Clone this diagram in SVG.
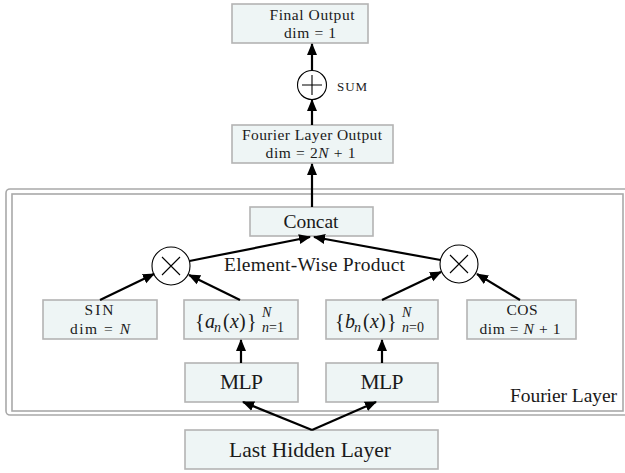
<svg xmlns="http://www.w3.org/2000/svg" width="625" height="473" viewBox="0 0 625 473">
  <defs>
    <marker id="ah" markerUnits="userSpaceOnUse" markerWidth="14" markerHeight="12" viewBox="0 0 14 12" refX="11" refY="6" orient="auto">
      <path d="M0,1 L12,6 L0,11 Z" fill="#000"/>
    </marker>
    <style>
      .box { fill: #eef5f5; stroke: #b3b3b3; stroke-width: 1.6; }
      .frame { fill: none; stroke: #a9a9a9; stroke-width: 1.6; }
      .op { fill: #fff; stroke: #000; stroke-width: 1.1; }
      .opl { stroke: #000; stroke-width: 1.1; fill: none; }
      .t { font-family: "Liberation Serif", "Times New Roman", serif; fill: #1a1a1a; text-anchor: middle; }
      .st { text-anchor: start; }
      .s { font-size: 15.5px; }
      .m { font-size: 19.5px; }
      .l { font-size: 21.5px; }
      .mm { font-size: 20px; }
      .sb { font-size: 14px; }
      .i { font-style: italic; }
      .c { stroke: #000; stroke-width: 2.2; fill: none; marker-end: url(#ah); }
    </style>
  </defs>

  <!-- Fourier Layer frame -->
  <g id="fourier-layer">
    <rect class="frame" x="6" y="189" width="630" height="226" rx="4"/>
    <rect class="frame" x="12" y="194" width="611" height="217"/>
    <text class="t m st" x="510" y="402" textLength="107">Fourier Layer</text>
  </g>

  <g id="final-output">
    <rect class="box" x="232" y="4" width="136" height="39"/>
    <text class="t s" x="312" y="20" textLength="85">Final Output</text>
    <text class="t s" x="310" y="38" textLength="52">dim = 1</text>
  </g>

  <g id="sum">
    <circle class="op" cx="312" cy="85" r="14.5"/>
    <path class="opl" d="M302,85 H322 M312,75 V95"/>
    <text class="t st" x="337" y="91" style="font-size:13px" textLength="30">SUM</text>
  </g>

  <g id="fourier-output">
    <rect class="box" x="232" y="125" width="161" height="38"/>
    <text class="t s" x="312" y="140" textLength="140">Fourier Layer Output</text>
    <text class="t s" x="310.5" y="158" textLength="90">dim = 2<tspan class="i">N</tspan> + 1</text>
  </g>

  <g id="concat">
    <rect class="box" x="250" y="207" width="123" height="29"/>
    <text class="t m" x="311" y="228" textLength="55">Concat</text>
  </g>

  <g id="mult-left">
    <circle class="op" cx="171" cy="266" r="19"/>
    <path class="opl" d="M162,257 L180,275 M180,257 L162,275"/>
  </g>

  <g id="mult-right">
    <circle class="op" cx="459" cy="264" r="19"/>
    <path class="opl" d="M450,255 L468,273 M468,255 L450,273"/>
  </g>

  <text id="product-label" class="t m" x="314.5" y="271" textLength="181">Element-Wise Product</text>

  <g id="sin">
    <rect class="box" x="43" y="300" width="114" height="39"/>
    <text class="t s" x="99" y="315" textLength="29">SIN</text>
    <text class="t s" x="100" y="334" textLength="60">dim = <tspan class="i">N</tspan></text>
  </g>

  <g id="an">
    <rect class="box" x="184" y="300" width="114" height="39"/>
    <text class="t mm st" y="328"><tspan x="195">{</tspan><tspan x="205" class="i">a</tspan><tspan x="214" y="332" class="i sb">n</tspan><tspan x="223" y="328">(</tspan><tspan x="230" class="i">x</tspan><tspan x="239">)</tspan><tspan x="247">}</tspan></text>
    <text class="t i sb st" x="262" y="317">N</text>
    <text class="t sb st" x="262" y="332"><tspan class="i">n</tspan>=1</text>
  </g>

  <g id="bn">
    <rect class="box" x="326" y="300" width="112" height="39"/>
    <text class="t mm st" y="328"><tspan x="335">{</tspan><tspan x="345" class="i">b</tspan><tspan x="354" y="332" class="i sb">n</tspan><tspan x="363" y="328">(</tspan><tspan x="370" class="i">x</tspan><tspan x="379">)</tspan><tspan x="387">}</tspan></text>
    <text class="t i sb st" x="402" y="317">N</text>
    <text class="t sb st" x="402" y="332"><tspan class="i">n</tspan>=0</text>
  </g>

  <g id="cos">
    <rect class="box" x="467" y="300" width="109" height="39"/>
    <text class="t s" x="522" y="315" textLength="31">COS</text>
    <text class="t s" x="520" y="334" textLength="81">dim = <tspan class="i">N</tspan> + 1</text>
  </g>

  <g id="mlp-a">
    <rect class="box" x="185" y="363" width="113" height="39"/>
    <text class="t l" x="241.5" y="389" textLength="43">MLP</text>
  </g>

  <g id="mlp-b">
    <rect class="box" x="326" y="363" width="112" height="39"/>
    <text class="t l" x="382" y="389" textLength="43">MLP</text>
  </g>

  <g id="last-hidden">
    <rect class="box" x="185" y="430" width="253" height="39"/>
    <text class="t l" x="310" y="457" textLength="162">Last Hidden Layer</text>
  </g>

  <g id="connectors">
    <line class="c" x1="312" y1="70.5" x2="312" y2="44"/>
    <line class="c" x1="312" y1="125" x2="312" y2="100"/>
    <line class="c" x1="312" y1="207" x2="312" y2="164"/>
    <line class="c" x1="189.5" y1="261" x2="310" y2="237"/>
    <line class="c" x1="440.5" y1="260" x2="314" y2="237"/>
    <line class="c" x1="100" y1="300" x2="154" y2="274"/>
    <line class="c" x1="240" y1="300" x2="189" y2="275"/>
    <line class="c" x1="382" y1="300" x2="441" y2="272"/>
    <line class="c" x1="520" y1="300" x2="477" y2="274"/>
    <line class="c" x1="241" y1="363" x2="241" y2="340"/>
    <line class="c" x1="382" y1="363" x2="382" y2="340"/>
    <line class="c" x1="312" y1="430" x2="243" y2="402"/>
    <line class="c" x1="312" y1="430" x2="376" y2="402"/>
  </g>
</svg>
